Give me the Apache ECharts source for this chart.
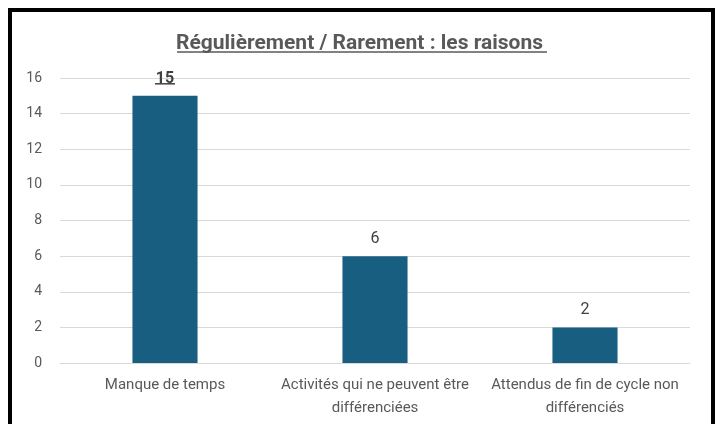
<!DOCTYPE html>
<html>
<head>
<meta charset="utf-8">
<script src="https://cdn.jsdelivr.net/npm/echarts@6/dist/echarts.min.js"></script>
<style>
  html, body { margin: 0; padding: 0; background: #fff; }
  #chart { width: 719px; height: 424px; }
</style>
</head>
<body>
<div id="chart"></div>
<script>
var titleText = "Régulièrement / Rarement : les raisons";
var categories = ["Manque de temps", "Activités qui ne peuvent être\ndifférenciées", "Attendus de fin de cycle non\ndifférenciés"];
var values = [15, 6, 2];
var yTicks = [0, 2, 4, 6, 8, 10, 12, 14, 16];

var font = "'Liberation Sans Narrow', 'Arial Narrow', 'Roboto', sans-serif";

var chart = echarts.init(document.getElementById("chart"));
var option = {
  backgroundColor: "#fff",
  animation: false,
  title: {
    text: titleText,
    left: "center",
    top: 28,
    textStyle: { color: "#595959", fontSize: 21, fontWeight: "bold", fontFamily: font }
  },
  grid: { left: 60, right: 29, top: 78, bottom: 61 },
  xAxis: {
    type: "category",
    data: categories,
    axisTick: { show: false },
    axisLine: { lineStyle: { color: "#d9d9d9" } },
    axisLabel: { color: "#595959", fontSize: 15, fontFamily: font, lineHeight: 23, margin: 11, interval: 0 }
  },
  yAxis: {
    type: "value",
    min: yTicks[0],
    max: yTicks[yTicks.length - 1],
    interval: 2,
    axisLine: { show: false },
    axisTick: { show: false },
    splitLine: { lineStyle: { color: "#d9d9d9" } },
    axisLabel: { color: "#595959", fontSize: 14, fontFamily: font, margin: 18 }
  },
  series: [{
    type: "bar",
    data: values.map(function (v, i) {
      return {
        value: v,
        label: i === 0 ? { fontWeight: "bold" } : {}
      };
    }),
    barWidth: "31%",
    itemStyle: { color: "#175e80" },
    label: { show: true, position: "top", distance: 9, color: "#404040", fontSize: 16, fontFamily: font }
  }],
  graphic: []
};
chart.setOption(option);

// frame + underlines
var p = chart.convertToPixel({ xAxisIndex: 0, yAxisIndex: 0 }, [0, values[0]]);
chart.setOption({
  graphic: [
    { type: "rect", z: -1, silent: true, shape: { x: 10, y: 10, width: 703, height: 440 }, style: { fill: "none", stroke: "#000", lineWidth: 4 } },
    { type: "line", silent: true, shape: { x1: 177, y1: 52, x2: 547, y2: 52 }, style: { stroke: "#595959", lineWidth: 1.5 } },
    { type: "line", silent: true, shape: { x1: p[0] - 10, y1: p[1] - 12, x2: p[0] + 10, y2: p[1] - 12 }, style: { stroke: "#404040", lineWidth: 1.5 } }
  ]
});
</script>
</body>
</html>
